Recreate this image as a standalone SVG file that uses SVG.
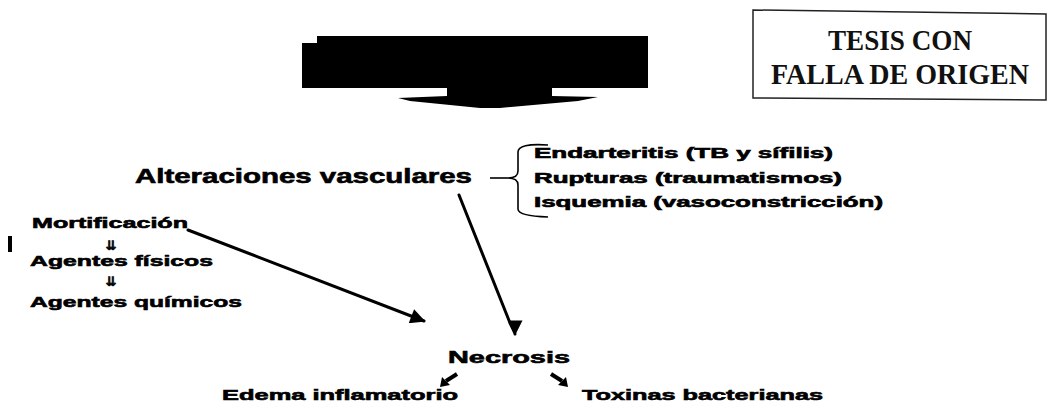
<svg xmlns="http://www.w3.org/2000/svg" width="1051" height="412" viewBox="0 0 1051 412">
<style>
.t{font-family:"Liberation Sans",Arial,sans-serif;font-weight:bold;fill:#000;stroke:#000;stroke-width:0.6}
.s{font-family:"Liberation Serif","Times New Roman",serif;font-weight:bold;fill:#111}
.ln{stroke:#000;stroke-width:3;fill:none;stroke-linecap:round}
.br{stroke:#000;stroke-width:1.6;fill:none}
.sa{stroke:#000;stroke-width:4;fill:none}
</style>
<defs>
<marker id="ah" viewBox="0 0 10 10" refX="9" refY="5" markerWidth="7" markerHeight="5" orient="auto" markerUnits="strokeWidth">
<path d="M0,0 L10,5 L0,10 z" fill="#000"/>
</marker>
</defs>
<rect width="1051" height="412" fill="#fff"/>
<g id="banner">
<polygon points="302,43 317,43 317,36 648,36 648,88 552,88 552,96 598,97 578,101 500,108 480,108 410,101 398,98 447,96 447,88 302,88" fill="#000"/>
</g>
<g id="stamp">
<path d="M753,10 L1046,14 L1046,100 L753,98 Z" fill="none" stroke="#222" stroke-width="1.5"/>
<text class="s" x="900" y="50" font-size="30" text-anchor="middle" textLength="144" lengthAdjust="spacingAndGlyphs">TESIS CON</text>
<text class="s" x="900" y="84" font-size="29" text-anchor="middle" textLength="258" lengthAdjust="spacingAndGlyphs">FALLA DE ORIGEN</text>
</g>
<g id="alteraciones">
<text class="t" x="135" y="183" font-size="20" textLength="337" lengthAdjust="spacingAndGlyphs">Alteraciones vasculares</text>
</g>
<g id="causas-vasculares">
<text class="t" x="534" y="158" font-size="14" textLength="299" lengthAdjust="spacingAndGlyphs">Endarteritis (TB y sífilis)</text>
<text class="t" x="534" y="183" font-size="14" textLength="308" lengthAdjust="spacingAndGlyphs">Rupturas (traumatismos)</text>
<text class="t" x="534" y="207" font-size="14" textLength="349" lengthAdjust="spacingAndGlyphs">Isquemia (vasoconstricción)</text>
</g>
<g id="mortificacion">
<text class="t" x="32" y="228" font-size="15" textLength="156" lengthAdjust="spacingAndGlyphs">Mortificación</text>
<rect x="8" y="236" width="4" height="16" fill="#000"/>
<text class="t" x="111" y="250" font-size="13" text-anchor="middle" style="font-family:'DejaVu Sans',sans-serif">⇊</text>
<text class="t" x="30" y="266" font-size="15" textLength="183" lengthAdjust="spacingAndGlyphs">Agentes físicos</text>
<text class="t" x="111" y="286" font-size="13" text-anchor="middle" style="font-family:'DejaVu Sans',sans-serif">⇊</text>
<text class="t" x="30" y="307" font-size="15" textLength="212" lengthAdjust="spacingAndGlyphs">Agentes químicos</text>
</g>
<g id="necrosis">
<text class="t" x="448" y="363" font-size="17" textLength="122" lengthAdjust="spacingAndGlyphs">Necrosis</text>
</g>
<g id="edema">
<text class="t" x="222" y="400" font-size="15" textLength="236" lengthAdjust="spacingAndGlyphs">Edema inflamatorio</text>
</g>
<g id="toxinas">
<text class="t" x="582" y="400" font-size="15" textLength="241" lengthAdjust="spacingAndGlyphs">Toxinas bacterianas</text>
</g>
<g id="connectors">
<path class="br" d="M490,178 L508,178"/>
<path class="br" d="M548,145 Q518,143 518,152 L518,171 Q518,178 508,178 Q518,178 518,185 L518,209 Q518,216 548,217"/>
<path class="ln" d="M188,230 L424,321" marker-end="url(#ah)"/>
<path class="ln" d="M459,195 L510,323 Q515,333 515,334" stroke-width="3.6" marker-end="url(#ah)"/>
<path class="sa" d="M457,374 L446,381"/>
<polygon points="440,387 442,377 450,385" fill="#000"/>
<path class="sa" d="M551,374 L562,381"/>
<polygon points="568,387 566,377 558,385" fill="#000"/>
</g>
</svg>
